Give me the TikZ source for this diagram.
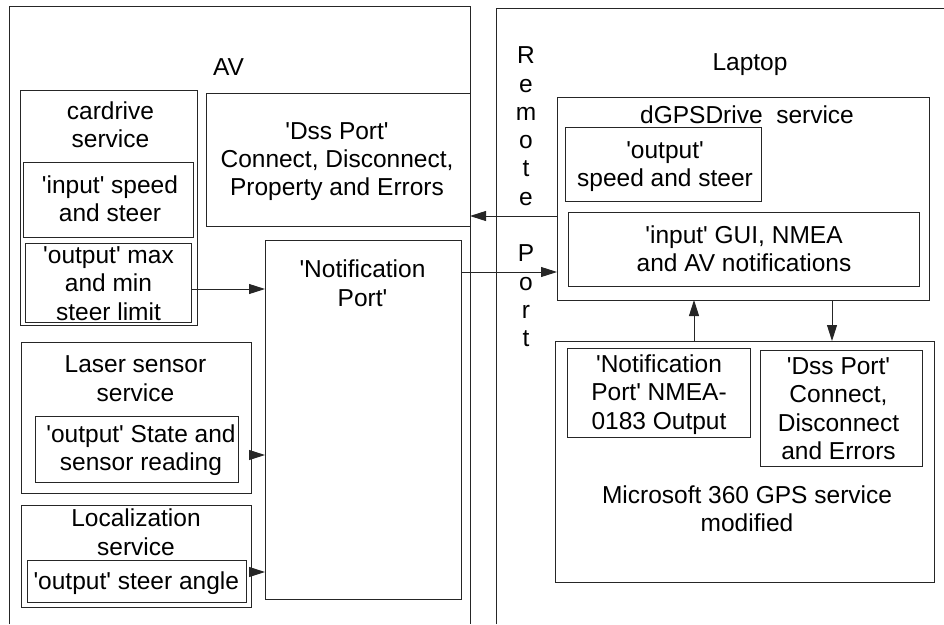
\documentclass[tikz,border=0pt]{standalone}
\usepackage{fontspec}
\setmainfont{Liberation Sans}[Ligatures=TeXOff]
\usetikzlibrary{arrows.meta}

\tikzset{
  box/.style={draw=black!85, line width=0.9pt, rectangle, inner sep=0pt, outer sep=0pt},
  % anchor=base sits on the baseline of the last line
  txt/.style={align=center, inner sep=0pt, anchor=base,
              font=\fontsize{24.5}{28.3}\selectfont},
  arr/.style={draw=black!85, line width=0.9pt, -{Triangle[length=16pt,width=10pt]}},
  wall/.style={draw=black!85, line width=0.9pt},
}

\begin{document}
\begin{tikzpicture}[x=1pt,y=-1pt]
\useasboundingbox (0,0) rectangle (944,624);

% the two machines
\draw[wall] (9,624) -- (9,6) -- (470,6) -- (470,624);
\draw[wall] (496,624) -- (496,8) -- (944,8);
\node[txt] (avlabel) at (228.5,75) {AV};
\node[txt] (laplabel) at (750,70) {Laptop};

% AV: cardrive service
\node[box, minimum width=177pt, minimum height=235pt] (cardrive) at (108.5,207.5) {};
\node[txt] (cardrivet) at (110.5,147.7) {cardrive\\service};
\node[box, minimum width=170pt, minimum height=75pt] (inspeed) at (108,199.5) {};
\node[txt] (inspeedt) at (110,221.7) {'input' speed\\and steer};
\node[box, minimum width=166pt, minimum height=79pt] (outmax) at (108,282.5) {};
\node[txt] (outmaxt) at (108.5,320) {'output' max\\and min\\steer limit};

% AV: ports
\node[box, minimum width=264pt, minimum height=133pt] (dssav) at (338,159.5) {};
\node[txt] (dssavt) at (337,195.7) {'Dss Port'\\Connect, Disconnect,\\Property and Errors};
\node[box, minimum width=196pt, minimum height=359pt] (notif) at (363,419.5) {};
\node[txt] (notift) at (362.5,306) {'Notification\\Port'};

% AV: laser sensor service
\node[box, minimum width=230pt, minimum height=151pt] (laser) at (136,417.5) {};
\node[txt] (lasert) at (135.5,401) {Laser sensor\\service};
\node[box, minimum width=203pt, minimum height=66pt] (outstate) at (136.5,449) {};
\node[txt] (outstatet) at (141,470.7) {'output' State and\\sensor reading};

% AV: localization service
\node[box, minimum width=230pt, minimum height=102pt] (loc) at (136,556) {};
\node[txt] (loct) at (136,555) {Localization\\service};
\node[box, minimum width=219pt, minimum height=42pt] (outangle) at (136.5,581) {};
\node[txt] (outanglet) at (136.3,589) {'output' steer angle};

% remote port
\node[txt] (remote) at (526,346.7) {R\\e\\m\\o\\t\\e\\\mbox{}\\P\\o\\r\\t};

% Laptop: dGPSDrive service
\node[box, minimum width=372pt, minimum height=203pt] (dgps) at (743,198.5) {};
\node[txt] (dgpst) at (747,123.3) {dGPSDrive\ \ service};
\node[box, minimum width=196pt, minimum height=74pt] (outspeed) at (663,164) {};
\node[txt] (outspeedt) at (665,186.7) {'output'\\speed and steer};
\node[box, minimum width=351pt, minimum height=74pt] (ingui) at (743.5,249) {};
\node[txt] (inguit) at (744,271.7) {'input' GUI, NMEA\\and AV notifications};

% Laptop: GPS service
\node[box, minimum width=379pt, minimum height=241pt] (ms) at (744.5,461.5) {};
\node[txt] (mst) at (747,531.7) {Microsoft 360 GPS service\\modified};
\node[box, minimum width=183pt, minimum height=89pt] (nmea) at (658.5,392.5) {};
\node[txt] (nmeat) at (659,429) {'Notification\\Port' NMEA-\\0183 Output};
\node[box, minimum width=162pt, minimum height=116pt] (dsslap) at (841,408) {};
\node[txt] (dsslapt) at (838.5,459.3) {'Dss Port'\\Connect,\\Disconnect\\and Errors};

% connectors
\draw[arr] (outmax.east |- 0,289) -- (notif.west |- 0,289);
\draw[arr] (laser.east |- 0,455) -- (notif.west |- 0,455);
\draw[arr] (loc.east |- 0,572) -- (notif.west |- 0,572);
\draw[arr] (dgps.west |- 0,216) -- (dssav.east |- 0,216);
\draw[arr] (notif.east |- 0,272) -- (dgps.west |- 0,272);
\draw[arr] (ms.north -| 694,0) -- (dgps.south -| 694,0);
\draw[arr] (dgps.south -| 832,0) -- (ms.north -| 832,0);
\end{tikzpicture}
\end{document}
